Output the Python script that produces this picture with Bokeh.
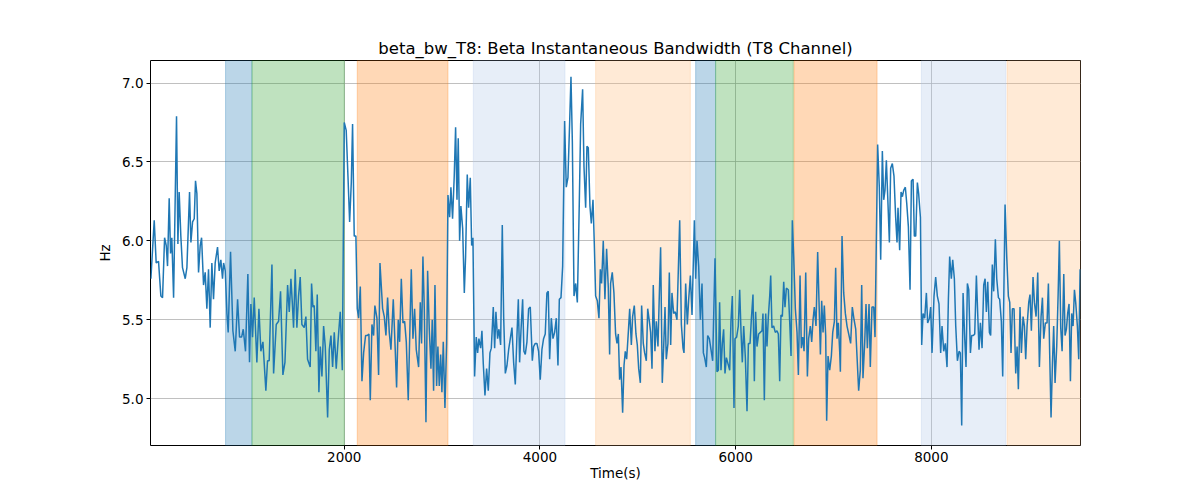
from bokeh.plotting import figure
from bokeh.models import Range1d, FixedTicker, NumeralTickFormatter, BoxAnnotation
from bokeh.embed import file_html
from bokeh.resources import INLINE

title_text = "beta_bw_T8: Beta Instantaneous Bandwidth (T8 Channel)"
x_label = "Time(s)"
y_label = "Hz"

x_ticks = [2000, 4000, 6000, 8000]
y_ticks = [5.0, 5.5, 6.0, 6.5, 7.0]

span_start = [787, 1057, 2133, 3319, 4569, 5591, 5795, 6596, 7898, 8774]
span_end = [1057, 2000, 3060, 4256, 5537, 5795, 6589, 7445, 8760, 9524]
span_color = ["#1f77b4", "#2ca02c", "#ff7f0e", "#aec7e8", "#ffbb78",
              "#1f77b4", "#2ca02c", "#ff7f0e", "#aec7e8", "#ffbb78"]

time_s = [
    24, 58, 78, 102, 126, 143, 164, 181, 194, 211, 225, 238, 256, 286, 300, 313, 330, 347, 375, 392,
    419, 433, 450, 467, 480, 494, 511, 528, 542, 562, 579, 596, 613, 630, 647, 664, 681, 705, 722, 739,
    756, 767, 784, 801, 814, 838, 862, 886, 910, 930, 951, 968, 991, 1015, 1032, 1046, 1063, 1080, 1107, 1128,
    1148, 1169, 1199, 1216, 1233, 1261, 1278, 1305, 1329, 1349, 1373, 1394, 1421, 1438, 1455, 1469, 1482, 1499, 1516, 1533,
    1550, 1567, 1591, 1608, 1625, 1652, 1666, 1680, 1693, 1710, 1724, 1741, 1755, 1772, 1789, 1806, 1830, 1847, 1864, 1881,
    1898, 1918, 1935, 1959, 1980, 2000, 2020, 2038, 2055, 2072, 2085, 2102, 2119, 2133, 2147, 2164, 2181, 2198, 2218, 2235,
    2252, 2266, 2283, 2300, 2313, 2334, 2351, 2365,
    2392, 2409, 2426, 2443, 2460, 2477, 2501, 2521, 2535, 2552, 2566, 2583, 2600, 2617, 2634, 2654, 2685, 2702, 2719, 2736,
    2760, 2777, 2790, 2804, 2818, 2835, 2852, 2869, 2886, 2899, 2913, 2927, 2944, 2957, 2971, 2985, 2998, 3012, 3029, 3046,
    3060, 3077, 3090, 3107, 3124, 3138, 3152, 3165, 3179, 3192, 3210, 3227, 3240, 3257, 3271, 3288, 3302, 3315, 3332, 3349,
    3363, 3376, 3394, 3407, 3421, 3438, 3455, 3472, 3489, 3503, 3523, 3537, 3550, 3567, 3581, 3598, 3615, 3629, 3646, 3663,
    3680, 3697, 3714, 3731, 3748, 3765, 3779, 3792, 3806, 3823, 3836, 3850, 3867, 3884, 3901, 3922, 3935, 3952, 3969, 3986,
    4003, 4020, 4037, 4054, 4071, 4085, 4099, 4116, 4133, 4150, 4167, 4184, 4198, 4215, 4232, 4252, 4269, 4286, 4303, 4317,
    4331, 4348, 4365, 4382, 4402, 4416, 4436, 4450, 4467, 4480, 4494, 4511, 4525, 4542, 4555, 4569, 4586, 4603, 4617, 4630,
    4647, 4664, 4681, 4698, 4712,
    4722, 4739, 4756, 4773, 4787, 4801, 4814, 4828, 4845, 4859, 4872, 4886, 4903, 4917, 4934, 4947, 4964, 4981, 4995, 5009,
    5026, 5039, 5056, 5070, 5087, 5101, 5118, 5131, 5145, 5158, 5175, 5189, 5206, 5220, 5233, 5250, 5264, 5278, 5291, 5308,
    5322, 5336, 5349, 5366, 5383, 5400, 5428, 5445, 5462, 5472, 5489, 5506, 5520, 5537, 5554, 5578, 5591, 5605, 5622, 5639,
    5656, 5670, 5683, 5700, 5714, 5731, 5748, 5765, 5789, 5809, 5823, 5836, 5850, 5864, 5877, 5891, 5905, 5922, 5939, 5952,
    5966, 5983, 5993, 6010, 6027, 6041, 6055, 6068, 6082, 6099, 6116, 6130, 6147, 6160, 6177, 6191, 6204, 6218, 6235, 6252,
    6269, 6279, 6293, 6307, 6320, 6334, 6348, 6358, 6371, 6388, 6405, 6422, 6436, 6450, 6463, 6477, 6491, 6504, 6518, 6538,
    6552, 6566, 6579, 6593, 6610, 6627, 6641, 6658, 6671, 6685, 6699, 6716, 6733, 6746, 6763, 6777, 6791, 6804, 6821, 6838,
    6852, 6866, 6879, 6893, 6906, 6920, 6930, 6944, 6961, 6978, 6992, 7009, 7022, 7036, 7049, 7063,
    7070, 7087, 7104, 7121, 7138, 7155, 7175, 7192, 7210, 7227, 7240, 7257, 7274, 7288, 7301, 7319, 7332, 7346, 7363, 7376,
    7393, 7411, 7424, 7451, 7468, 7482, 7499, 7513, 7526, 7540, 7554, 7571, 7584, 7601, 7618, 7635, 7649, 7659, 7676, 7690,
    7704, 7717, 7734, 7748, 7765, 7782, 7796, 7813, 7826, 7840, 7857, 7870, 7888, 7901, 7915, 7932, 7949, 7962, 7980, 7993,
    8007, 8027, 8044, 8061, 8078, 8095, 8109, 8126, 8143, 8160, 8174, 8187, 8204, 8218, 8235, 8249, 8266, 8283, 8296, 8310,
    8324, 8341, 8354, 8368, 8382, 8399, 8412, 8429, 8443, 8460, 8474, 8487, 8501, 8518, 8535, 8549, 8562, 8576, 8593, 8606,
    8623, 8637, 8654, 8668, 8685, 8698, 8715, 8729, 8753, 8770, 8787, 8801, 8814, 8828, 8845, 8862, 8876, 8889, 8906, 8920,
    8937, 8951, 8964, 8978, 8995, 9008, 9022, 9039, 9053, 9070, 9087, 9104, 9121, 9135, 9148, 9165, 9182, 9196, 9209, 9223,
    9237, 9250, 9264, 9281, 9295, 9308, 9322, 9336, 9353, 9366, 9380, 9393, 9407, 9421, 9434, 9448, 9462, 9475, 9492, 9506,
    9520,
]

beta_bw = [
    5.76, 6.13, 5.86, 5.87, 5.65, 5.64, 6.02, 5.97, 5.84, 6.27, 5.92, 6.02, 5.64, 6.79, 5.98, 6.31, 6.03, 5.83, 5.76, 5.83,
    6.31, 5.99, 6.12, 6.14, 6.38, 6.30, 5.80, 5.97, 6.02, 5.72, 5.80, 5.57, 5.82, 5.45, 5.86, 5.63, 5.86, 5.96, 5.81, 5.88,
    5.76, 5.86, 5.81, 5.54, 5.42, 5.93, 5.43, 5.30, 5.63, 5.39, 5.39, 5.44, 5.30, 5.79, 5.23, 5.60, 5.39, 5.64, 5.23, 5.57,
    5.30, 5.36, 5.05, 5.24, 5.24, 5.85, 5.16, 5.47, 5.49, 5.68, 5.15, 5.23, 5.72, 5.55, 5.76, 5.61, 5.45, 5.82, 5.45, 5.65,
    5.77, 5.47, 5.45, 5.52, 5.25, 5.20, 5.73, 5.58, 5.59, 5.30, 5.66, 5.04, 5.33, 5.14, 5.46, 5.33, 4.88, 5.31, 5.40, 5.20,
    5.42, 5.19, 5.35, 5.55, 5.18, 6.75, 6.70, 6.41, 6.12, 6.37, 6.74, 6.03, 6.03, 5.57, 5.51, 5.71, 5.11, 5.29, 5.40, 5.40,
    5.41, 4.99, 5.47, 5.40, 5.59, 5.51, 5.15, 5.86,
    5.57, 5.52, 5.40, 5.64, 5.42, 5.31, 5.63, 5.31, 5.07, 5.50, 5.36, 5.76, 5.48, 5.49, 5.36, 4.99, 5.82, 5.38, 5.57, 5.31,
    5.20, 5.61, 5.35, 5.90, 5.57, 4.85, 5.81, 5.44, 5.19, 5.50, 5.05, 5.72, 5.08, 5.33, 5.08, 5.28, 5.04, 5.36, 4.94, 5.35,
    6.29, 6.15, 6.34, 6.14, 6.41, 6.72, 6.26, 6.65, 6.00, 6.22, 6.08, 5.67, 5.90, 6.42, 6.21, 6.40, 5.97, 6.02, 5.14, 5.39,
    5.29, 5.38, 5.32, 5.43, 5.22, 5.02, 5.19, 5.05, 5.29, 5.32, 5.58, 5.32, 5.55, 5.38, 5.44, 5.34, 6.10, 5.52, 5.16, 5.21,
    5.31, 5.38, 5.45, 5.23, 5.09, 5.40, 5.63, 5.23, 5.43, 5.63, 5.30, 5.28, 5.36, 5.57, 5.58, 5.24, 5.33, 5.35, 5.35, 5.30,
    5.12, 5.31, 5.38, 5.41, 5.67, 5.68, 5.25, 5.51, 5.38, 5.42, 5.51, 5.21, 5.63, 5.64, 5.84, 6.76, 6.34, 6.40, 6.74, 7.04,
    6.63, 5.65, 5.73, 5.61, 6.24, 6.74, 6.96, 6.47, 6.21, 6.60, 6.59, 6.22, 6.11, 6.26, 5.99, 5.65, 5.62, 5.51, 5.82, 5.73,
    6.00, 5.63, 5.95, 5.71, 5.28,
    5.73, 5.80, 5.67, 5.41, 5.35, 5.41, 5.12, 5.20, 4.91, 5.21, 5.30, 5.25, 5.42, 5.57, 5.34, 5.52, 5.59, 5.41, 5.34, 5.19,
    5.10, 5.59, 5.35, 5.29, 5.24, 5.57, 5.49, 5.42, 5.19, 5.72, 5.30, 5.49, 5.33, 5.66, 5.96, 5.10, 5.32, 5.58, 5.25, 5.35,
    5.80, 5.34, 5.67, 5.54, 5.55, 5.50, 6.13, 5.47, 5.32, 5.29, 5.73, 5.47, 5.63, 5.78, 5.53, 6.13, 5.76, 6.00, 5.84, 5.50,
    5.73, 5.29, 5.26, 5.20, 5.40, 5.38, 5.31, 5.24, 5.89, 5.17, 5.18, 5.61, 5.18, 5.35, 5.44, 5.16, 5.26, 5.22, 5.18, 5.49,
    5.65, 4.94, 5.38, 5.39, 5.46, 5.69, 5.42, 5.23, 5.46, 5.26, 4.92, 5.35, 5.35, 5.50, 5.66, 5.11, 5.55, 5.33, 5.41, 5.42,
    5.43, 5.54, 4.99, 5.54, 5.33, 5.52, 5.65, 5.78, 5.45, 5.46, 5.42, 5.43, 5.41, 5.11, 5.53, 5.52, 5.74, 5.58, 5.70, 5.69,
    5.49, 5.27, 6.13, 5.90, 5.57, 5.42, 5.15, 5.78, 5.32, 5.39, 5.30, 5.80, 5.14, 5.38, 5.46, 5.36, 5.50, 5.58, 5.46, 5.93,
    5.61, 5.28, 5.62, 5.42, 5.59, 5.40, 4.86, 5.27, 5.18, 5.27, 5.42, 5.49, 5.83, 5.38, 5.48, 5.30,
    5.17, 6.03, 5.67, 5.54, 5.46, 5.41, 5.35, 5.58, 5.50, 5.44, 5.27, 5.05, 5.18, 5.72, 5.13, 5.36, 5.60, 5.32, 5.60, 5.20,
    5.58, 5.58, 5.39, 6.61, 6.34, 5.88, 6.57, 6.26, 6.32, 6.51, 6.28, 5.99, 6.46, 6.49, 6.41, 6.15, 5.99, 6.21, 5.94, 6.31,
    6.28, 6.32, 6.34, 6.24, 6.09, 5.69, 6.38, 6.39, 6.03, 6.03, 6.37, 6.30, 6.15, 5.34, 5.54, 5.51, 5.67, 5.48, 5.51, 5.58,
    5.29, 5.65, 5.77, 5.65, 5.60, 5.29, 5.46, 5.30, 5.35, 5.20, 5.63, 5.90, 5.76, 5.88, 5.76, 5.46, 5.24, 5.30, 5.29, 4.83,
    5.67, 5.38, 5.20, 5.73, 5.69, 5.29, 5.40, 5.40, 5.41, 5.78, 5.53, 5.31, 5.48, 5.32, 5.72, 5.76, 5.55, 5.74, 5.42, 5.40,
    5.85, 5.68, 6.01, 5.76, 5.64, 5.63, 5.49, 5.14, 6.23, 5.90, 5.65, 5.61, 5.29, 5.57, 5.57, 5.16, 5.33, 5.06, 5.58, 5.29,
    5.52, 5.46, 5.25, 5.46, 5.61, 5.66, 5.43, 5.77, 5.61, 5.52, 5.80, 5.20, 5.52, 5.64, 5.38, 5.48, 5.48, 5.73, 5.29, 4.88,
    5.22, 5.46, 5.10, 5.33, 5.65, 6.00, 5.45, 5.30, 5.79, 5.40, 5.44, 5.54, 5.60, 5.11, 5.54, 5.46, 5.69, 5.61, 5.46, 5.25,
    5.82,
]

FONT = "DejaVu Sans"

p = figure(width=1184, height=484, output_backend="svg", toolbar_location=None,
           x_range=Range1d(20, 9524), y_range=Range1d(4.703, 7.143),
           min_border_left=150, min_border_right=104, min_border_top=60, min_border_bottom=39)

p.title.text = title_text
p.title.align = "center"
p.title.text_font = FONT
p.title.text_font_size = "16.5px"
p.title.text_font_style = "normal"
p.title.text_color = "black"
p.title.offset = 0
p.title.standoff = 6

p.outline_line_color = "black"
p.outline_line_width = 1
p.outline_line_alpha = 1

for s, e, c in zip(span_start, span_end, span_color):
    p.add_layout(BoxAnnotation(left=s, right=e, fill_color=c, fill_alpha=0.3,
                               line_color=c, line_alpha=0.3, line_width=1, level="underlay"))

p.line(time_s, beta_bw, line_color="#1f77b4", line_width=1.5)

p.xaxis.ticker = FixedTicker(ticks=x_ticks)
p.yaxis.ticker = FixedTicker(ticks=y_ticks)
p.xaxis.formatter = NumeralTickFormatter(format="0")
p.yaxis.formatter = NumeralTickFormatter(format="0.0")
p.xaxis.axis_label = x_label
p.yaxis.axis_label = y_label

for ax in (p.xaxis, p.yaxis):
    ax.axis_line_color = None
    ax.major_tick_line_color = "black"
    ax.major_tick_in = 0
    ax.major_tick_out = 4
    ax.minor_tick_line_color = None
    ax.major_label_text_font = FONT
    ax.major_label_text_font_size = "13.5px"
    ax.major_label_text_color = "black"
    ax.axis_label_text_font = FONT
    ax.axis_label_text_font_size = "13.5px"
    ax.axis_label_text_font_style = "normal"
    ax.axis_label_text_color = "black"

p.xaxis.major_label_standoff = 2
p.xaxis.axis_label_standoff = 0
p.yaxis.major_label_standoff = 3
p.yaxis.axis_label_standoff = 6

p.grid.grid_line_color = "#b0b0b0"
p.grid.grid_line_width = 0.8
p.background_fill_color = "white"
p.border_fill_color = "white"

open("out.html", "w").write(file_html(p, INLINE))
